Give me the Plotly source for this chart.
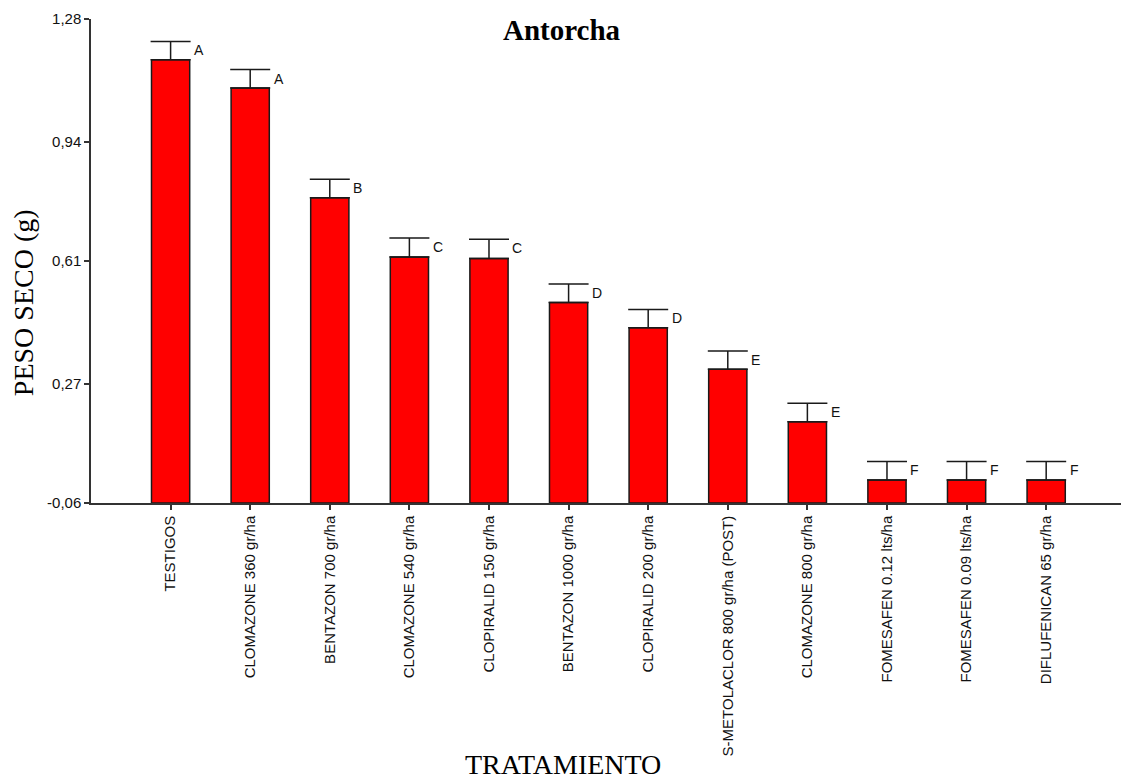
import plotly.graph_objects as go

# Dry weight per treatment (g), standard error and grouping letters
tratamientos = [
    "TESTIGOS",
    "CLOMAZONE 360 gr/ha",
    "BENTAZON 700 gr/ha",
    "CLOMAZONE 540 gr/ha",
    "CLOPIRALID 150 gr/ha",
    "BENTAZON 1000 gr/ha",
    "CLOPIRALID 200 gr/ha",
    "S-METOLACLOR 800 gr/ha (POST)",
    "CLOMAZONE 800 gr/ha",
    "FOMESAFEN 0.12 lts/ha",
    "FOMESAFEN 0.09 lts/ha",
    "DIFLUFENICAN 65 gr/ha",
]
peso_seco = [1.167, 1.089, 0.785, 0.621, 0.617, 0.495, 0.425, 0.310, 0.165, 0.004, 0.004, 0.004]
error_std = [0.051, 0.051, 0.051, 0.053, 0.053, 0.051, 0.051, 0.051, 0.051, 0.051, 0.051, 0.051]
letras = ["A", "A", "B", "C", "C", "D", "D", "E", "E", "F", "F", "F"]

y_ticks = [-0.06, 0.27, 0.61, 0.94, 1.28]
Y_MIN, Y_MAX = -0.06, 1.28

x_pos = list(range(len(tratamientos)))

fig = go.Figure()
fig.add_trace(go.Bar(
    x=x_pos,
    y=[v - Y_MIN for v in peso_seco],
    base=Y_MIN,
    width=0.48,
    marker=dict(color="#ff0000", line=dict(color="#1a1a1a", width=1.5)),
    error_y=dict(type="data", symmetric=False, array=error_std, arrayminus=[0] * len(error_std),
                 color="#1a1a1a", thickness=1.5, width=20),
    hovertemplate="%{customdata}<extra></extra>",
    customdata=peso_seco,
))

# Grouping letters to the right of each error-bar cap
for i, (v, e, l) in enumerate(zip(peso_seco, error_std, letras)):
    fig.add_annotation(
        x=i + 0.27, y=v + e, xref="x", yref="y", text=l, showarrow=False,
        xanchor="left", yanchor="top", yshift=1,
        font=dict(family="Liberation Sans, Arial", size=14, color="#111"),
    )

fig.add_annotation(
    x=0.457, y=0.977, xref="paper", yref="paper", text="<b>Antorcha</b>", showarrow=False,
    xanchor="center", yanchor="middle",
    font=dict(family="Liberation Serif, Times New Roman", size=29, color="#000"),
)
fig.add_annotation(
    x=0.458, y=-0.541, xref="paper", yref="paper", text="TRATAMIENTO", showarrow=False,
    xanchor="center", yanchor="middle",
    font=dict(family="Liberation Serif, Times New Roman", size=28, color="#000"),
)
fig.add_annotation(
    x=-0.066, y=0.413, xref="paper", yref="paper", text="PESO SECO (g)", showarrow=False,
    xanchor="center", yanchor="middle", textangle=-90,
    font=dict(family="Liberation Serif, Times New Roman", size=28, color="#000"),
)

fig.update_layout(
    width=1121, height=780,
    margin=dict(l=91, r=0, t=19, b=277),
    paper_bgcolor="white", plot_bgcolor="white",
    separators=",.",
    showlegend=False,
    bargap=0.5,
    font=dict(family="Liberation Sans, Arial", size=15, color="#111"),
)
fig.update_xaxes(
    range=[-1.0, 11.94],
    tickmode="array", tickvals=x_pos, ticktext=tratamientos,
    tickangle=-90,
    ticks="outside", ticklen=5, tickwidth=1.5, tickcolor="#333",
    showline=True, linecolor="#333", linewidth=1.5,
    showgrid=False, zeroline=False,
    tickfont=dict(family="Liberation Sans, Arial", size=15, color="#111"),
)
fig.update_yaxes(
    range=[Y_MIN, Y_MAX],
    tickmode="array", tickvals=y_ticks, ticktext=[f"{t:.2f}".replace(".", ",") for t in y_ticks],
    ticks="outside", ticklen=5, tickwidth=1.5, tickcolor="#333",
    showline=True, linecolor="#333", linewidth=1.5,
    showgrid=False, zeroline=False,
    tickfont=dict(family="Liberation Sans, Arial", size=15, color="#111"),
)

fig.write_html("out.html")
